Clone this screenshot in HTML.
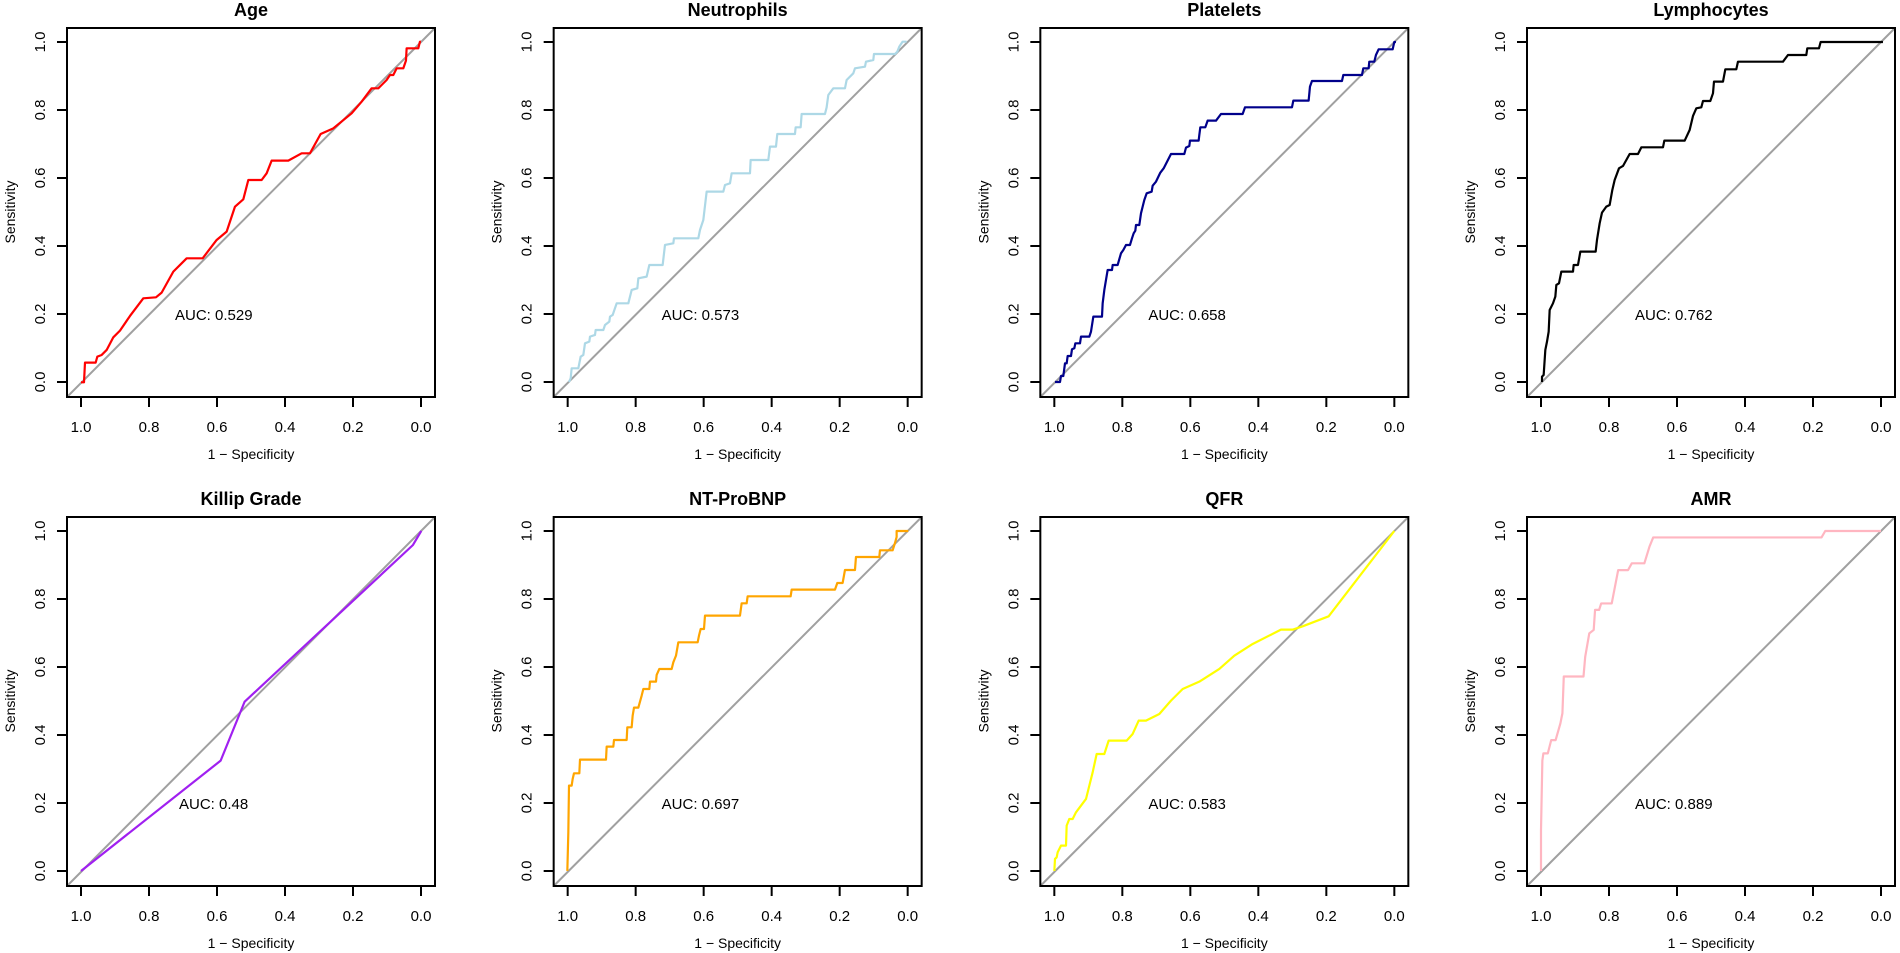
<!DOCTYPE html>
<html><head><meta charset="utf-8"><style>
html,body{margin:0;padding:0;background:#fff;}
svg{display:block;font-family:"Liberation Sans",Arial,sans-serif;}
.bx{fill:none;stroke:#000;stroke-width:2}
.tk{stroke:#000;stroke-width:2}
.dg{stroke:#a0a0a0;stroke-width:2}
.tl{font-size:15px;text-anchor:middle}
.tt{font-size:18px;font-weight:bold;text-anchor:middle}
.au{font-size:15px}
.cv{fill:none;stroke-width:2.2;stroke-linejoin:round;vector-effect:non-scaling-stroke}
</style></head><body>
<svg width="1900" height="953" viewBox="0 0 1900 953" xmlns="http://www.w3.org/2000/svg">
<defs>
<g id="ax">
<line class="dg" x1="0" y1="369" x2="368" y2="0"/>
<rect class="bx" x="0" y="0" width="368" height="369"/>
<g class="tk">
<line x1="14" y1="369" x2="14" y2="379"/><line x1="82" y1="369" x2="82" y2="379"/><line x1="150" y1="369" x2="150" y2="379"/><line x1="218" y1="369" x2="218" y2="379"/><line x1="286" y1="369" x2="286" y2="379"/><line x1="354" y1="369" x2="354" y2="379"/>
<line x1="-10" y1="14" x2="0" y2="14"/><line x1="-10" y1="82" x2="0" y2="82"/><line x1="-10" y1="150" x2="0" y2="150"/><line x1="-10" y1="218" x2="0" y2="218"/><line x1="-10" y1="286" x2="0" y2="286"/><line x1="-10" y1="354" x2="0" y2="354"/>
</g>
</g>
</defs>

<!-- Panel template instances -->
<g transform="translate(67,28)"><use href="#ax"/>
<g class="tl"><text x="14" y="404">1.0</text><text x="82" y="404">0.8</text><text x="150" y="404">0.6</text><text x="218" y="404">0.4</text><text x="286" y="404">0.2</text><text x="354" y="404">0.0</text><text x="184" y="431" style="font-size:14px">1 − Specificity</text>
<text transform="translate(-22,354) rotate(-90)">0.0</text><text transform="translate(-22,286) rotate(-90)">0.2</text><text transform="translate(-22,218) rotate(-90)">0.4</text><text transform="translate(-22,150) rotate(-90)">0.6</text><text transform="translate(-22,82) rotate(-90)">0.8</text><text transform="translate(-22,14) rotate(-90)">1.0</text>
<text transform="translate(-52,184) rotate(-90)" style="font-size:14px">Sensitivity</text></g>
<text class="tt" x="184" y="-12">Age</text><text class="au" x="108" y="292">AUC: 0.529</text></g>

<g transform="translate(553.67,28)"><use href="#ax"/>
<g class="tl"><text x="14" y="404">1.0</text><text x="82" y="404">0.8</text><text x="150" y="404">0.6</text><text x="218" y="404">0.4</text><text x="286" y="404">0.2</text><text x="354" y="404">0.0</text><text x="184" y="431" style="font-size:14px">1 − Specificity</text>
<text transform="translate(-22,354) rotate(-90)">0.0</text><text transform="translate(-22,286) rotate(-90)">0.2</text><text transform="translate(-22,218) rotate(-90)">0.4</text><text transform="translate(-22,150) rotate(-90)">0.6</text><text transform="translate(-22,82) rotate(-90)">0.8</text><text transform="translate(-22,14) rotate(-90)">1.0</text>
<text transform="translate(-52,184) rotate(-90)" style="font-size:14px">Sensitivity</text></g>
<text class="tt" x="184" y="-12">Neutrophils</text><text class="au" x="108" y="292">AUC: 0.573</text></g>

<g transform="translate(1040.33,28)"><use href="#ax"/>
<g class="tl"><text x="14" y="404">1.0</text><text x="82" y="404">0.8</text><text x="150" y="404">0.6</text><text x="218" y="404">0.4</text><text x="286" y="404">0.2</text><text x="354" y="404">0.0</text><text x="184" y="431" style="font-size:14px">1 − Specificity</text>
<text transform="translate(-22,354) rotate(-90)">0.0</text><text transform="translate(-22,286) rotate(-90)">0.2</text><text transform="translate(-22,218) rotate(-90)">0.4</text><text transform="translate(-22,150) rotate(-90)">0.6</text><text transform="translate(-22,82) rotate(-90)">0.8</text><text transform="translate(-22,14) rotate(-90)">1.0</text>
<text transform="translate(-52,184) rotate(-90)" style="font-size:14px">Sensitivity</text></g>
<text class="tt" x="184" y="-12">Platelets</text><text class="au" x="108" y="292">AUC: 0.658</text></g>

<g transform="translate(1527,28)"><use href="#ax"/>
<g class="tl"><text x="14" y="404">1.0</text><text x="82" y="404">0.8</text><text x="150" y="404">0.6</text><text x="218" y="404">0.4</text><text x="286" y="404">0.2</text><text x="354" y="404">0.0</text><text x="184" y="431" style="font-size:14px">1 − Specificity</text>
<text transform="translate(-22,354) rotate(-90)">0.0</text><text transform="translate(-22,286) rotate(-90)">0.2</text><text transform="translate(-22,218) rotate(-90)">0.4</text><text transform="translate(-22,150) rotate(-90)">0.6</text><text transform="translate(-22,82) rotate(-90)">0.8</text><text transform="translate(-22,14) rotate(-90)">1.0</text>
<text transform="translate(-52,184) rotate(-90)" style="font-size:14px">Sensitivity</text></g>
<text class="tt" x="184" y="-12">Lymphocytes</text><text class="au" x="108" y="292">AUC: 0.762</text></g>

<g transform="translate(67,517)"><use href="#ax"/>
<g class="tl"><text x="14" y="404">1.0</text><text x="82" y="404">0.8</text><text x="150" y="404">0.6</text><text x="218" y="404">0.4</text><text x="286" y="404">0.2</text><text x="354" y="404">0.0</text><text x="184" y="431" style="font-size:14px">1 − Specificity</text>
<text transform="translate(-22,354) rotate(-90)">0.0</text><text transform="translate(-22,286) rotate(-90)">0.2</text><text transform="translate(-22,218) rotate(-90)">0.4</text><text transform="translate(-22,150) rotate(-90)">0.6</text><text transform="translate(-22,82) rotate(-90)">0.8</text><text transform="translate(-22,14) rotate(-90)">1.0</text>
<text transform="translate(-52,184) rotate(-90)" style="font-size:14px">Sensitivity</text></g>
<text class="tt" x="184" y="-12">Killip Grade</text><text class="au" x="112" y="292">AUC: 0.48</text></g>

<g transform="translate(553.67,517)"><use href="#ax"/>
<g class="tl"><text x="14" y="404">1.0</text><text x="82" y="404">0.8</text><text x="150" y="404">0.6</text><text x="218" y="404">0.4</text><text x="286" y="404">0.2</text><text x="354" y="404">0.0</text><text x="184" y="431" style="font-size:14px">1 − Specificity</text>
<text transform="translate(-22,354) rotate(-90)">0.0</text><text transform="translate(-22,286) rotate(-90)">0.2</text><text transform="translate(-22,218) rotate(-90)">0.4</text><text transform="translate(-22,150) rotate(-90)">0.6</text><text transform="translate(-22,82) rotate(-90)">0.8</text><text transform="translate(-22,14) rotate(-90)">1.0</text>
<text transform="translate(-52,184) rotate(-90)" style="font-size:14px">Sensitivity</text></g>
<text class="tt" x="184" y="-12">NT-ProBNP</text><text class="au" x="108" y="292">AUC: 0.697</text></g>

<g transform="translate(1040.33,517)"><use href="#ax"/>
<g class="tl"><text x="14" y="404">1.0</text><text x="82" y="404">0.8</text><text x="150" y="404">0.6</text><text x="218" y="404">0.4</text><text x="286" y="404">0.2</text><text x="354" y="404">0.0</text><text x="184" y="431" style="font-size:14px">1 − Specificity</text>
<text transform="translate(-22,354) rotate(-90)">0.0</text><text transform="translate(-22,286) rotate(-90)">0.2</text><text transform="translate(-22,218) rotate(-90)">0.4</text><text transform="translate(-22,150) rotate(-90)">0.6</text><text transform="translate(-22,82) rotate(-90)">0.8</text><text transform="translate(-22,14) rotate(-90)">1.0</text>
<text transform="translate(-52,184) rotate(-90)" style="font-size:14px">Sensitivity</text></g>
<text class="tt" x="184" y="-12">QFR</text><text class="au" x="108" y="292">AUC: 0.583</text></g>

<g transform="translate(1527,517)"><use href="#ax"/>
<g class="tl"><text x="14" y="404">1.0</text><text x="82" y="404">0.8</text><text x="150" y="404">0.6</text><text x="218" y="404">0.4</text><text x="286" y="404">0.2</text><text x="354" y="404">0.0</text><text x="184" y="431" style="font-size:14px">1 − Specificity</text>
<text transform="translate(-22,354) rotate(-90)">0.0</text><text transform="translate(-22,286) rotate(-90)">0.2</text><text transform="translate(-22,218) rotate(-90)">0.4</text><text transform="translate(-22,150) rotate(-90)">0.6</text><text transform="translate(-22,82) rotate(-90)">0.8</text><text transform="translate(-22,14) rotate(-90)">1.0</text>
<text transform="translate(-52,184) rotate(-90)" style="font-size:14px">Sensitivity</text></g>
<text class="tt" x="184" y="-12">AMR</text><text class="au" x="108" y="292">AUC: 0.889</text></g>

<!-- Curves -->
<g transform="translate(0,0) scale(0.3333)">
<polyline class="cv" stroke="#ff0000" points="243,1147 252,1147 255,1088 287,1088 292,1070 305,1065 320,1050 340,1012 360,992 390,948 430,895 468,892 485,878 520,815 560,775 608,775 650,720 680,695 705,620 730,598 745,540 785,540 800,520 815,482 865,482 905,460 930,460 962,402 1000,385 1055,340 1085,305 1115,265 1135,265 1160,240 1170,225 1180,225 1190,205 1210,205 1218,182 1220,145 1255,145 1260,125 1263,125"/>
</g>
<g transform="translate(550,20) scale(0.3333)">
<polyline class="cv" stroke="#add8e6" points="57,1086 62,1075 65,1045 85,1045 92,1010 100,1005 105,970 118,965 120,950 135,945 137,930 160,930 165,915 178,905 180,890 188,885 200,850 235,850 245,810 262,805 265,775 290,770 298,735 338,735 345,675 370,670 372,655 445,655 450,630 460,600 470,515 520,515 525,495 540,490 545,460 600,460 602,420 655,420 660,380 678,380 682,342 735,342 737,322 752,322 755,282 825,282 830,262 835,225 850,205 885,205 890,180 910,160 915,145 945,140 948,125 970,120 972,102 1035,102 1042,95 1048,80 1058,65 1070,65"/>
</g>
<g transform="translate(1036,20) scale(0.3333)">
<polyline class="cv" stroke="#00008b" points="57,1086 72,1086 75,1068 82,1068 87,1030 92,1030 95,1008 105,1008 108,988 115,985 118,970 132,970 135,950 160,950 165,935 172,890 198,890 200,850 205,810 210,780 215,750 228,750 230,735 245,735 255,700 262,690 270,675 282,675 288,655 293,640 298,632 300,615 310,615 315,580 320,560 325,540 332,520 347,515 350,497 360,485 373,458 383,445 405,402 445,402 450,383 460,378 462,362 488,362 490,345 493,322 508,322 515,302 540,302 555,282 620,282 627,262 768,262 772,242 818,242 822,200 828,183 918,183 922,165 978,165 982,145 998,145 1000,125 1015,125 1020,105 1028,88 1070,88 1075,66 1080,66"/>
</g>
<g transform="translate(1523,20) scale(0.3333)">
<polyline class="cv" stroke="#000000" points="57,1086 57,1070 62,1065 67,990 72,965 77,935 80,870 90,850 97,830 100,795 108,790 115,755 150,755 152,735 165,735 172,695 218,695 222,660 230,610 237,578 250,560 260,555 268,510 275,480 288,445 300,438 310,420 320,402 345,402 355,382 420,382 424,362 485,362 500,330 510,288 520,265 535,262 540,243 562,243 570,220 573,185 600,185 607,148 640,148 645,125 780,125 795,105 850,105 853,85 888,85 893,66 1080,66"/>
</g>
<g transform="translate(63,509) scale(0.3333)">
<polyline class="cv" stroke="#a020f0" points="54,1086 473,755 545,578 1050,108 1075,66"/>
</g>
<g transform="translate(550,509) scale(0.3333)">
<polyline class="cv" stroke="#ffa500" points="52,1086 55,970 57,830 65,830 68,810 72,793 88,793 90,752 168,752 170,713 190,713 192,693 230,693 232,655 245,655 248,620 252,596 265,596 270,578 275,560 280,540 298,540 300,518 318,518 320,498 328,480 365,480 370,460 378,440 385,400 443,400 447,380 452,360 462,360 465,320 570,320 575,283 590,283 593,262 722,262 725,242 855,242 862,222 878,222 885,183 915,183 918,144 988,144 990,124 1028,124 1035,102 1040,84 1040,66 1075,66"/>
</g>
<g transform="translate(1036,509) scale(0.3333)">
<polyline class="cv" stroke="#ffff00" points="55,1086 57,1050 62,1045 65,1030 75,1010 90,1010 92,950 100,930 110,930 120,910 150,870 160,830 170,790 182,735 205,735 218,695 272,695 290,675 308,635 330,635 370,615 405,575 440,540 490,518 550,480 595,440 650,405 735,362 770,362 800,352 878,322 1075,66"/>
</g>
<g transform="translate(1541,871) scale(3.4,-3.4)">
<polyline class="cv" stroke="#ffb6c1" points="0,0 0,12 0.4,32.5 0.7,34.6 2,34.6 3,38.5 4.3,38.5 5.7,43.4 6.3,46.4 6.7,57.2 12.5,57.2 13,63 14.2,69.9 15.5,70.9 15.9,76.8 17.1,76.8 17.7,78.7 20.8,78.7 22.7,88.5 25.6,88.5 26.7,90.5 30.4,90.5 31.9,95.4 33,98.1 82.5,98.1 83.6,100 100,100"/>
</g>
</svg>
</body></html>
